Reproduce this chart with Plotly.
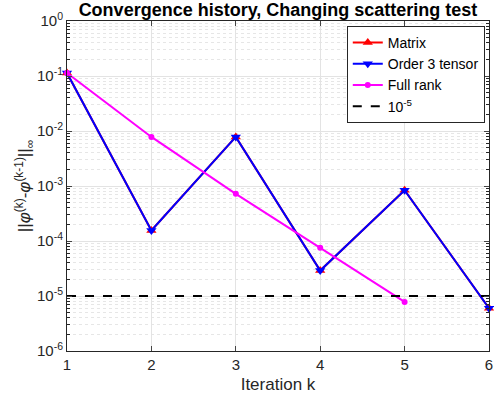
import plotly.graph_objects as go

iterations = [1, 2, 3, 4, 5, 6]
matrix_err = [0.113, 1.55e-4, 7.8e-3, 2.9e-5, 8.4e-4, 6.0e-6]
tensor_err = [0.113, 1.55e-4, 7.8e-3, 2.9e-5, 8.4e-4, 6.0e-6]
fullrank_iter = [1, 2, 3, 4, 5]
fullrank_err = [0.113, 7.8e-3, 7.2e-4, 7.5e-5, 7.8e-6]
tol_x = [1, 6]
tol_y = [1e-5, 1e-5]

decades = [1e-6, 1e-5, 1e-4, 1e-3, 1e-2, 1e-1, 1e0]
decade_labels = ["10<sup>-6</sup>", "10<sup>-5</sup>", "10<sup>-4</sup>", "10<sup>-3</sup>",
                 "10<sup>-2</sup>", "10<sup>-1</sup>", "10<sup>0</sup>"]
minor_vals = [m * d for d in decades[:-1] for m in range(2, 10)]

fig = go.Figure()
fig.add_trace(go.Scatter(x=iterations, y=matrix_err, name="Matrix", mode="lines+markers",
                         line=dict(color="#ff0000", width=2), cliponaxis=False,
                         marker=dict(symbol="triangle-up", size=9, color="#ff0000")))
fig.add_trace(go.Scatter(x=iterations, y=tensor_err, name="Order 3 tensor", mode="lines+markers",
                         line=dict(color="#0000ff", width=2), cliponaxis=False,
                         marker=dict(symbol="triangle-down", size=9, color="#0000ff")))
fig.add_trace(go.Scatter(x=fullrank_iter, y=fullrank_err, name="Full rank", mode="lines+markers",
                         line=dict(color="#ff00ff", width=2), cliponaxis=False,
                         marker=dict(symbol="circle", size=6, color="#ff00ff")))
fig.add_trace(go.Scatter(x=tol_x, y=tol_y, name="10<sup>-5</sup>", mode="lines",
                         line=dict(color="black", width=2, dash="dash")))

fig.update_layout(
    width=494, height=396,
    margin=dict(l=67, r=5, t=21, b=45),
    paper_bgcolor="white", plot_bgcolor="white",
    font=dict(family="Liberation Sans, Arial, sans-serif", size=14, color="#262626"),
    title=dict(text="<b>Convergence history, Changing scattering test</b>",
               x=0.5, xref="paper", xanchor="center",
               y=1 - 10 / 396, yref="container", yanchor="middle",
               font=dict(size=18, color="black")),
    showlegend=True,
    legend=dict(x=0.99, y=0.985, xanchor="right", yanchor="top",
                bgcolor="white", bordercolor="#262626", borderwidth=1,
                font=dict(size=14, color="black"), tracegroupgap=0,
                itemwidth=30),
)
fig.update_xaxes(
    range=[1, 6], tickvals=iterations, ticks="inside", ticklen=5,
    showline=True, linecolor="#262626", linewidth=1, mirror="ticks",
    showgrid=True, gridcolor="#e3e3e3", zeroline=False,
    automargin=False, ticklabeloverflow="allow",
    tickfont=dict(size=15),
    title=dict(text="Iteration k", font=dict(size=17), standoff=6),
)
fig.update_yaxes(
    type="log", range=[-6, 0], tickvals=decades, ticktext=decade_labels,
    ticks="inside", ticklen=5,
    showline=True, linecolor="#262626", linewidth=1, mirror="ticks",
    showgrid=True, gridcolor="#e3e3e3", zeroline=False,
    automargin=False, tickfont=dict(size=15),
    minor=dict(tickmode="array", tickvals=minor_vals, ticks="inside", ticklen=3,
               tickcolor="#262626", showgrid=True, gridcolor="#e6e6e6", griddash="dot"),
    title=dict(text="||<i>φ</i><sup>(k)</sup>-<i>φ</i><sup>(k-1)</sup>||<sub>∞</sub>",
               font=dict(size=17), standoff=0),
)

fig.write_html("out.html", config={"displayModeBar": False},
               post_script="document.body.style.margin='0';")
